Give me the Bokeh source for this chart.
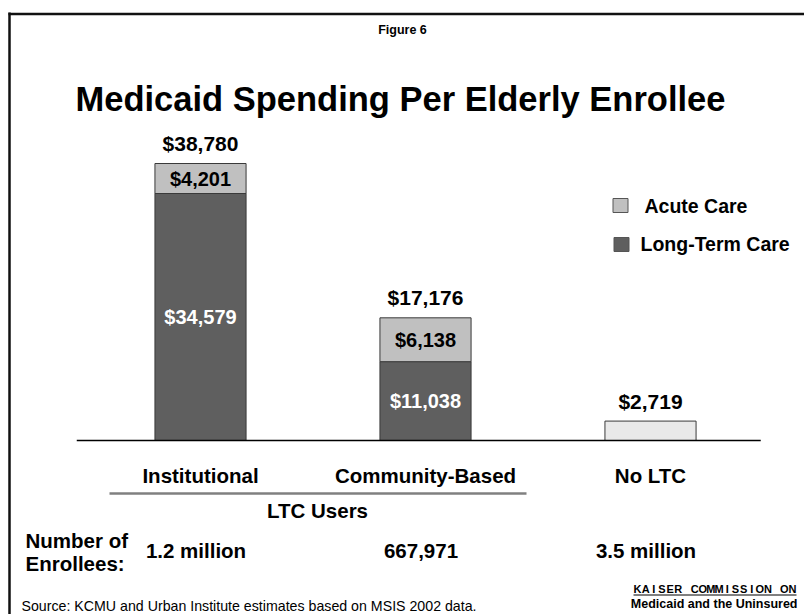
from bokeh.plotting import figure
from bokeh.models import Range1d
from bokeh.core.properties import value
from bokeh.embed import file_html
from bokeh.resources import INLINE

# ---------------- data ----------------
categories = ["Institutional", "Community-Based", "No LTC"]
ltc_spending = [34579, 11038, 0]
acute_spending = [4201, 6138, 2719]
totals = [38780, 17176, 2719]
enrollees = ["1.2 million", "667,971", "3.5 million"]
series_names = ["Acute Care", "Long-Term Care"]

title = "Medicaid Spending Per Elderly Enrollee"
fig_label = "Figure 6"
group_label = "LTC Users"
source = "Source: KCMU and Urban Institute estimates based on MSIS 2002 data."
logo_top = "KAISER COMMISSION ON"
logo_bottom = "Medicaid and the Uninsured"

# ---------------- layout ----------------
W, H = 804, 614
MARGIN = 0
X0 = 200          # page px of first bar centre
KX = 225.0        # page px between bars
BASE = 440        # page px of the baseline
KY = 277.0 / max(totals)   # px per dollar


def dx(px):
    return (px - X0) / KX


def dy(py):
    return (BASE - py) / KY


FONT = value("Liberation Sans")
LTC_COLOR = "#5f5f5f"
ACUTE_COLOR = "#c0c0c0"
NOLTC_COLOR = "#e9e9e9"

p = figure(width=W, height=H, output_backend="svg", toolbar_location=None,
           x_range=Range1d(dx(MARGIN), dx(MARGIN + W)),
           y_range=Range1d(dy(MARGIN + H), dy(MARGIN)),
           x_axis_location=None, y_axis_location=None,
           min_border=0, outline_line_color=None, tools="")
p.xgrid.visible = False
p.ygrid.visible = False

xs = list(range(len(categories)))

# frame border (left + top)
p.segment(x0=[dx(9), dx(8)], y0=[dy(12), dy(13.5)], x1=[dx(9), dx(820)], y1=[dy(640), dy(13.5)],
          line_color="#111111", line_width=2.5)

# ---------------- bars ----------------
ltc_x = [x for x, v in zip(xs, ltc_spending) if v > 0]
ltc_v = [v for v in ltc_spending if v > 0]
p.vbar(x=ltc_x, bottom=0, top=ltc_v, width=0.405,
       fill_color=LTC_COLOR, line_color="#3a3a3a", line_width=1)

acute_bottom = ltc_spending
acute_top = [a + b for a, b in zip(ltc_spending, acute_spending)]
acute_colors = [ACUTE_COLOR if l > 0 else NOLTC_COLOR for l in ltc_spending]
p.vbar(x=xs, bottom=acute_bottom, top=acute_top, width=0.405,
       fill_color=acute_colors, line_color="#3a3a3a", line_width=1)

# baseline
p.segment(x0=[-0.5 - 0.05], y0=[0], x1=[len(xs) - 0.5 - 0.01], y1=[0],
          line_color="#000000", line_width=1.5)


def money(v):
    return "${:,}".format(v)


# totals above bars
p.text(x=xs, y=totals, text=[money(v) for v in totals], y_offset=-20,
       text_align="center", text_baseline="middle", text_font=FONT,
       text_font_style="bold", text_font_size="21px", text_color="#000000")

# segment labels
in_x = [x for x, l in zip(xs, ltc_spending) if l > 0]
p.text(x=in_x, y=[l / 2 for l in ltc_spending if l > 0],
       text=[money(l) for l in ltc_spending if l > 0],
       text_align="center", text_baseline="middle", text_font=FONT,
       text_font_style="bold", text_font_size="20px", text_color="#ffffff")
p.text(x=in_x, y=[l + a / 2 for l, a in zip(ltc_spending, acute_spending) if l > 0],
       text=[money(a) for l, a in zip(ltc_spending, acute_spending) if l > 0],
       text_align="center", text_baseline="middle", text_font=FONT,
       text_font_style="bold", text_font_size="20px", text_color="#000000")

# ---------------- legend ----------------
p.rect(x=[dx(620), dx(621)], y=[dy(205), dy(244)], width=15, height=14,
       width_units="screen", height_units="screen",
       fill_color=[ACUTE_COLOR, LTC_COLOR], line_color="#555555", line_width=1)
p.text(x=[dx(644), dx(640)], y=[dy(205), dy(243)], text=series_names,
       text_align="left", text_baseline="middle", text_font=FONT,
       text_font_style="bold", text_font_size="19.5px", text_color="#000000")

# ---------------- titles ----------------
p.text(x=[dx(402)], y=[dy(29)], text=[fig_label], text_align="center",
       text_baseline="middle", text_font=FONT, text_font_style="bold",
       text_font_size="12.5px", text_color="#000000")
p.text(x=[dx(400)], y=[dy(98)], text=[title], text_align="center",
       text_baseline="middle", text_font=FONT, text_font_style="bold",
       text_font_size="34.5px", text_color="#000000")

# ---------------- category labels ----------------
p.text(x=xs, y=[dy(475)] * len(xs), text=categories, text_align="center",
       text_baseline="middle", text_font=FONT, text_font_style="bold",
       text_font_size="20.5px", text_color="#000000")
p.segment(x0=[dx(109)], y0=[dy(493)], x1=[dx(526)], y1=[dy(493)],
          line_color="#808080", line_width=2.5)
p.text(x=[dx(317)], y=[dy(510)], text=[group_label], text_align="center",
       text_baseline="middle", text_font=FONT, text_font_style="bold",
       text_font_size="20.5px", text_color="#000000")

# enrollees
p.text(x=[dx(25), dx(25)], y=[dy(540), dy(563)], text=["Number of", "Enrollees:"],
       text_align="left", text_baseline="middle", text_font=FONT,
       text_font_style="bold", text_font_size="20.5px", text_color="#000000")
p.text(x=[x - 0.02 for x in xs], y=[dy(550)] * len(xs), text=enrollees,
       text_align="center", text_baseline="middle", text_font=FONT,
       text_font_style="bold", text_font_size="20.5px", text_color="#000000")

# source
p.text(x=[dx(21)], y=[dy(605)], text=[source], text_align="left",
       text_baseline="middle", text_font=FONT, text_font_size="14.2px",
       text_color="#000000")

# logo
letters = list(logo_top)
left, right = 637, 792
pitch = (right - left) / (len(letters) - 1)
lx = [dx(left + i * pitch) for i, c in enumerate(letters) if c != " "]
lt = [c for c in letters if c != " "]
p.text(x=lx, y=[dy(588)] * len(lx), text=lt, text_align="center",
       text_baseline="middle", text_font=FONT, text_font_style="bold",
       text_font_size="11px", text_color="#000000")
p.segment(x0=[dx(633)], y0=[dy(594.5)], x1=[dx(796)], y1=[dy(594.5)],
          line_color="#000000", line_width=1)
p.text(x=[dx(797)], y=[dy(603.5)], text=[logo_bottom], text_align="right",
       text_baseline="middle", text_font=FONT, text_font_style="bold",
       text_font_size="12.5px", text_color="#000000")

open("out.html", "w").write(file_html(p, INLINE))
